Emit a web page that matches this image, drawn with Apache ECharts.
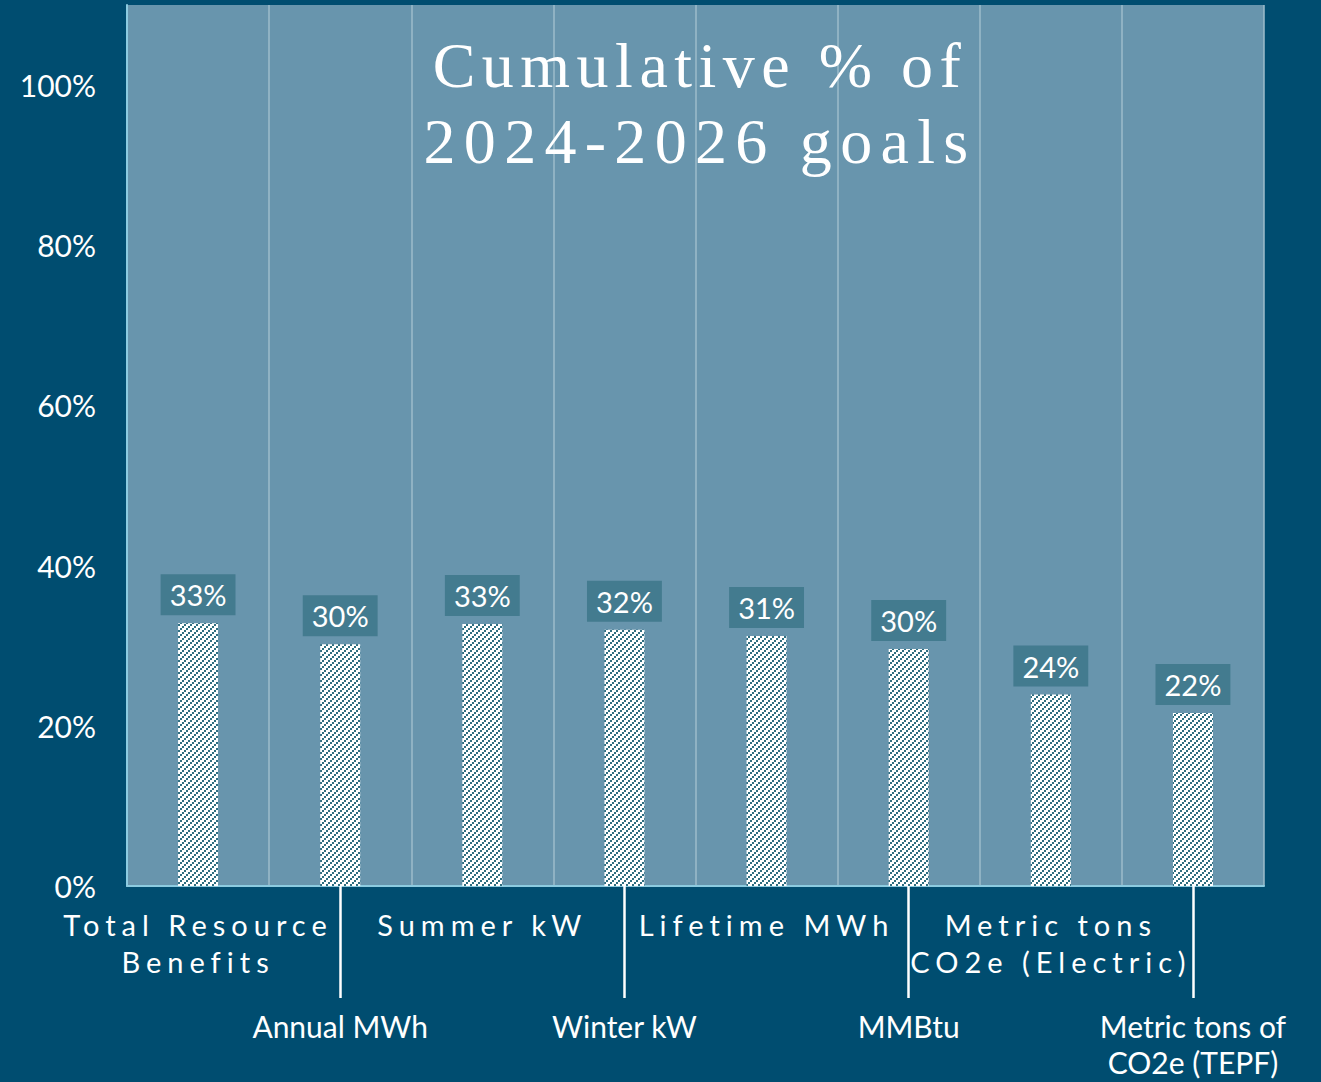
<!DOCTYPE html>
<html>
<head>
<meta charset="utf-8">
<script src="https://cdn.jsdelivr.net/npm/echarts@6/dist/echarts.min.js"></script>
<style>
html,body{margin:0;padding:0;background:#004d70;}
#chart{width:1321px;height:1082px;}
</style>
</head>
<body>
<div id="chart"></div>
<script>
// ---- data ----
const categories = [
  'Total Resource\nBenefits',
  'Annual MWh',
  'Summer kW',
  'Winter kW',
  'Lifetime MWh',
  'MMBtu',
  'Metric tons\nCO2e (Electric)',
  'Metric tons of\nCO2e (TEPF)'
];
const percentOfGoal = [32.8, 30.2, 32.7, 32.0, 31.2, 29.6, 23.9, 21.6];
const yMin = 0;
const yMax = 110;
const yStep = 20;
const titleLines = ['Cumulative % of', '2024-2026 goals'];

// ---- letter spacing for spaced texts (applied to the SVG output) ----
const spacing = {
  'Cumulative % of': 6.5,
  '2024-2026 goals': 8.3,
  'Total Resource': 6,
  'Benefits': 6,
  'Summer kW': 6,
  'Lifetime MWh': 6,
  'Metric tons': 6,
  'CO2e (Electric)': 6
};

// hatch pattern tile
const tile = document.createElement('canvas');
tile.width = 6; tile.height = 6;
const tc = tile.getContext('2d');
tc.fillStyle = '#ffffff'; tc.fillRect(0, 0, 6, 6);
tc.fillStyle = '#2e6e80';
tc.fillRect(4, 0, 2, 2); tc.fillRect(2, 2, 2, 2); tc.fillRect(0, 4, 2, 2);

const FONT = 'Lato';
const chart = echarts.init(document.getElementById('chart'), null, { renderer: 'svg' });

const option = {
  animation: false,
  backgroundColor: '#004d70',
  title: {
    text: titleLines.join('\n'),
    left: 695,
    top: 22,
    textAlign: 'center',
    textStyle: {
      fontFamily: 'Liberation Serif',
      fontSize: 64,
      fontWeight: 'normal',
      color: '#ffffff',
      lineHeight: 76
    }
  },
  grid: {
    left: 127, right: 57, top: 5, bottom: 196,
    outerBoundsMode: 'none',
    containLabel: false,
    show: true, backgroundColor: '#6895ad', borderWidth: 0
  },
  xAxis: [
    {
      type: 'category',
      data: categories,
      axisLine: { show: true, lineStyle: { color: '#8ccbe0', width: 2 } },
      axisTick: { show: false },
      splitLine: { show: true, interval: 0, lineStyle: { color: '#9dbccb', width: 1.5 } },
      axisLabel: {
        interval: function (i) { return i % 2 === 0; },
        margin: 20,
        color: '#ffffff',
        fontFamily: FONT,
        fontSize: 29,
        lineHeight: 37
      }
    },
    {
      type: 'category',
      data: categories,
      position: 'bottom',
      axisLine: { show: false },
      splitLine: { show: false },
      axisTick: {
        show: true,
        alignWithLabel: true,
        interval: function (i) { return i % 2 === 1; },
        length: 112,
        lineStyle: { color: '#ffffff', width: 2.5 }
      },
      axisLabel: {
        interval: function (i) { return i % 2 === 1; },
        margin: 122,
        color: '#ffffff',
        fontFamily: FONT,
        fontSize: 30,
        lineHeight: 36
      }
    }
  ],
  yAxis: {
    type: 'value',
    min: yMin, max: yMax, interval: yStep,
    axisLine: { show: true, lineStyle: { color: '#8ccbe0', width: 2 } },
    axisTick: { show: false },
    splitLine: { show: false },
    axisLabel: {
      showMaxLabel: false,
      formatter: function (v) { return v + '%'; },
      margin: 31,
      color: '#ffffff',
      fontFamily: FONT,
      fontSize: 30
    }
  },
  series: [{
    type: 'bar',
    xAxisIndex: 0,
    data: percentOfGoal,
    barWidth: 40,
    silent: true,
    itemStyle: { color: { image: tile, repeat: 'repeat' } },
    label: {
      show: true,
      position: 'top',
      distance: 8,
      formatter: function (p) { return Math.round(p.value) + '%'; },
      backgroundColor: '#437b8f',
      padding: [6, 9, 6, 9],
      color: '#ffffff',
      fontFamily: FONT,
      fontSize: 29
    }
  }]
};

function applySpacing() {
  document.querySelectorAll('#chart svg text').forEach(function (t) {
    const k = (t.textContent || '').replace(/\s+/g, ' ').trim();
    if (spacing[k] != null) t.style.letterSpacing = spacing[k] + 'px';
  });
}
chart.on('finished', applySpacing);
chart.setOption(option);
applySpacing();
requestAnimationFrame(applySpacing);
setTimeout(applySpacing, 50);
</script>
</body>
</html>
